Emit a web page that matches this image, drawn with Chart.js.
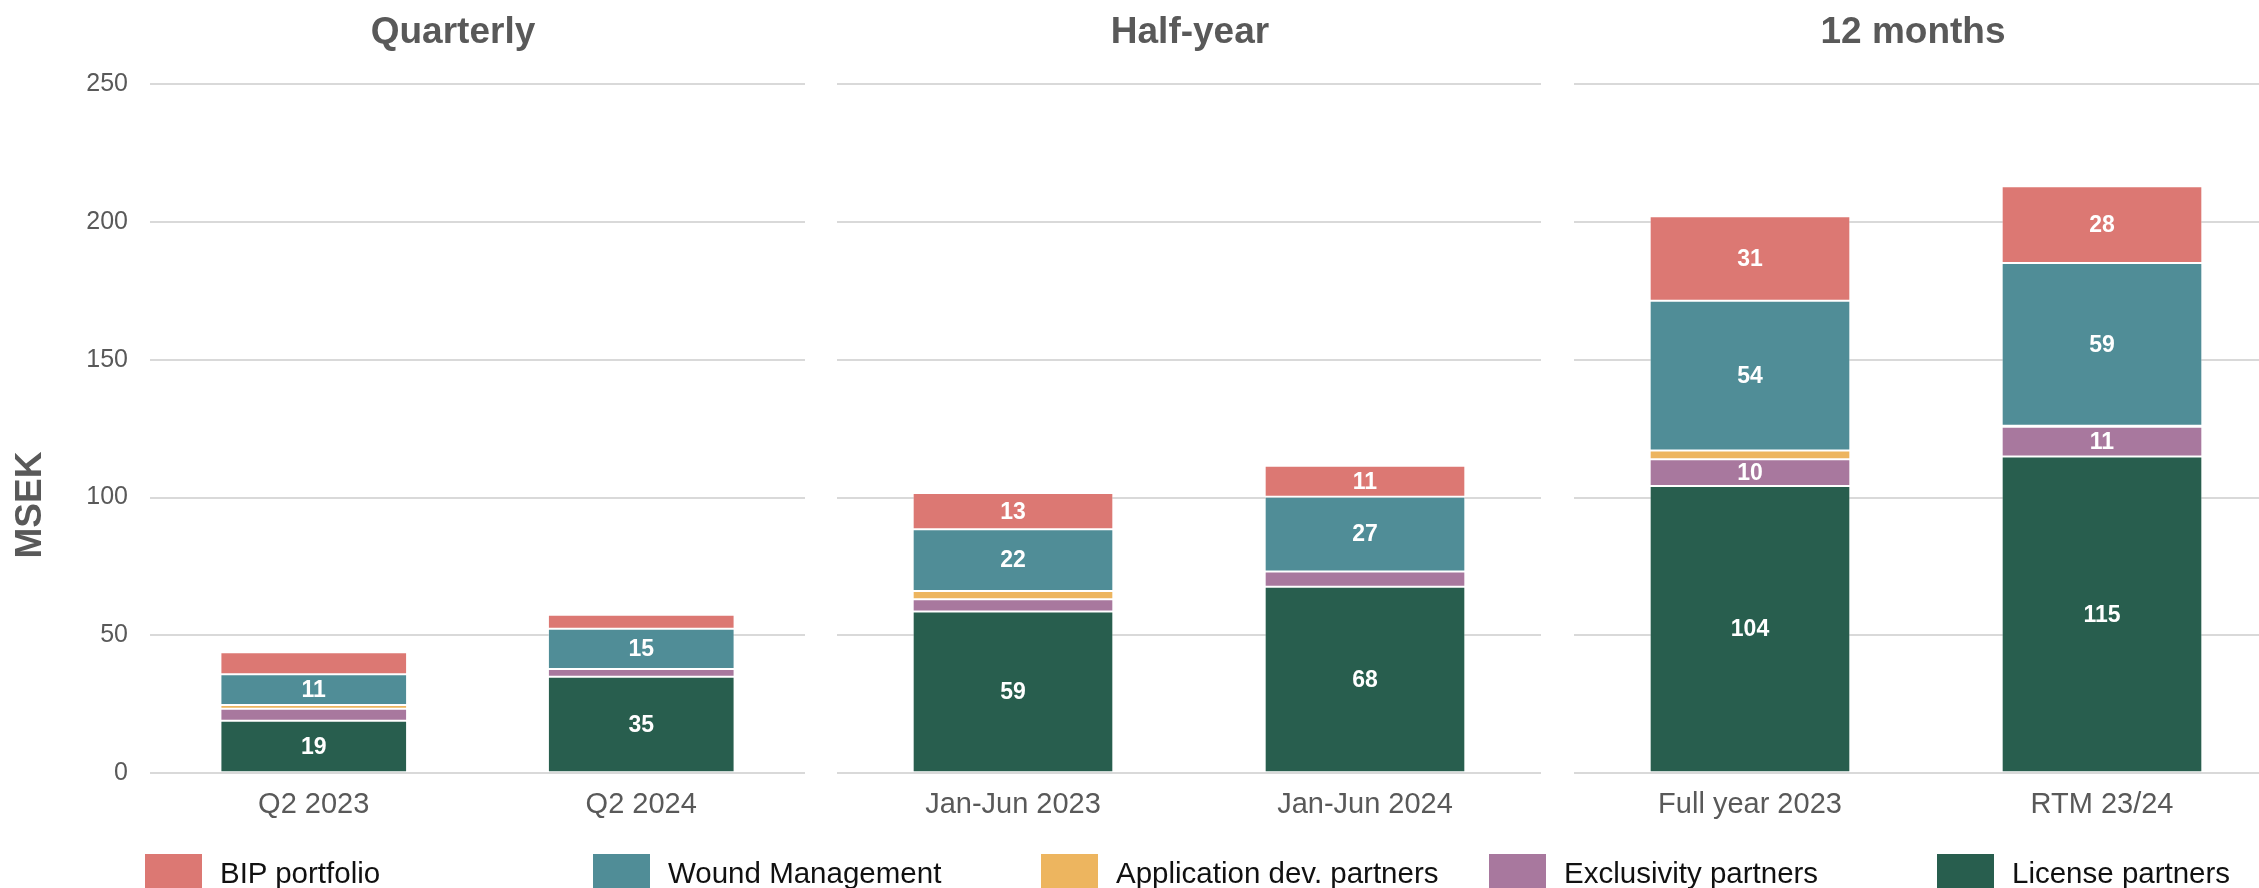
<!DOCTYPE html>
<html><head><meta charset="utf-8">
<script src="https://cdn.jsdelivr.net/npm/chart.js@4.4.1/dist/chart.umd.min.js"></script>
<style>
html,body{margin:0;padding:0;width:2259px;height:888px;overflow:hidden;background:#fff;font-family:'Liberation Sans',Arial,sans-serif;position:relative;}
canvas{position:absolute;top:0;}
.title{position:absolute;width:400px;text-align:center;font-weight:bold;font-size:37px;line-height:37px;color:#595959;top:12px;white-space:nowrap;}
.ytitle{position:absolute;width:200px;height:40px;line-height:40px;text-align:center;font-weight:bold;font-size:37px;color:#595959;left:-71px;top:485px;transform:rotate(-90deg);}
.lbox{position:absolute;top:854px;width:57px;height:57px;}
.ltext{position:absolute;top:856px;font-size:29.5px;line-height:34px;color:#111;white-space:nowrap;}
</style></head><body>
<canvas id="c1" width="805" height="888" style="left:0px"></canvas>
<canvas id="c2" width="704" height="888" style="left:837px"></canvas>
<canvas id="c3" width="704" height="888" style="left:1574px"></canvas>
<div class="ytitle">MSEK</div>
<div id="titles"></div>
<div id="legend"></div>
<script>
// ---- data ----
const categories = ['Q2 2023', 'Q2 2024', 'Jan-Jun 2023', 'Jan-Jun 2024', 'Full year 2023', 'RTM 23/24'];
const panelTitles = ['Quarterly', 'Half-year', '12 months'];
const seriesNames = ['BIP portfolio', 'Wound Management', 'Application dev. partners', 'Exclusivity partners', 'License partners'];
const bipPortfolio = [8.0, 5.1, 13.1, 11.2, 30.6, 27.8];
const woundManagement = [11.2, 14.6, 22.4, 27.1, 54.3, 59.1];
const applicationDev = [1.3, 0, 3.0, 0, 3.2, 0.3];
const exclusivityPartners = [4.4, 2.8, 4.4, 5.6, 9.7, 10.8];
const licensePartners = [19, 35, 58.7, 67.6, 104.2, 114.9];
const yTicks = [0, 50, 100, 150, 200, 250];

const colors = {
  'BIP portfolio': '#DC7873',
  'Wound Management': '#508D97',
  'Application dev. partners': '#EDB55F',
  'Exclusivity partners': '#A8789E',
  'License partners': '#285E4E'
};
const seriesData = {
  'BIP portfolio': bipPortfolio,
  'Wound Management': woundManagement,
  'Application dev. partners': applicationDev,
  'Exclusivity partners': exclusivityPartners,
  'License partners': licensePartners
};

const FONT = "'Liberation Sans', Arial, sans-serif";
Chart.defaults.font.family = FONT;

const segLabels = {
  id: 'segLabels',
  afterDatasetsDraw(chart) {
    const ctx = chart.ctx;
    ctx.save();
    ctx.font = 'bold 23px ' + FONT;
    ctx.fillStyle = '#ffffff';
    ctx.textAlign = 'center';
    ctx.textBaseline = 'middle';
    chart.data.datasets.forEach((ds, i) => {
      const meta = chart.getDatasetMeta(i);
      meta.data.forEach((el, j) => {
        const v = ds.data[j];
        if (v >= 9.5) ctx.fillText(String(Math.round(v)), el.x, (el.y + el.base) / 2 + 1);
      });
    });
    ctx.restore();
  }
};

function makeChart(id, from, showY) {
  const stackOrder = seriesNames.slice().reverse(); // bottom first
  const datasets = stackOrder.map(name => ({
    label: name,
    data: seriesData[name].slice(from, from + 2),
    backgroundColor: colors[name],
    borderColor: 'rgba(255,255,255,0.35)',
    borderWidth: 1,
    borderSkipped: false,
    categoryPercentage: 1,
    barPercentage: 0.57
  }));
  return new Chart(document.getElementById(id), {
    type: 'bar',
    data: { labels: categories.slice(from, from + 2), datasets },
    plugins: [segLabels],
    options: {
      responsive: false,
      animation: false,
      devicePixelRatio: 1,
      layout: { padding: { top: 84, bottom: 52, left: 0, right: 0 } },
      plugins: { legend: { display: false }, tooltip: { enabled: false } },
      scales: {
        x: {
          stacked: true,
          grid: { display: false, drawTicks: false },
          border: { display: false },
          ticks: { color: '#595959', font: { size: 29 }, padding: 14 }
        },
        y: {
          stacked: true,
          min: 0, max: 250,
          afterBuildTicks: (scale) => { scale.ticks = yTicks.map(v => ({ value: v })); },
          afterFit: (scale) => { scale.width = showY ? 150 : 0; },
          grid: { color: '#d9d9d9', lineWidth: 2, drawTicks: false },
          border: { display: false },
          ticks: { display: showY, color: '#595959', font: { size: 25 }, padding: 22 }
        }
      }
    }
  });
}

makeChart('c1', 0, true);
makeChart('c2', 2, false);
makeChart('c3', 4, false);

// panel titles
const titleCenters = [453, 1190, 1913];
const tdiv = document.getElementById('titles');
panelTitles.forEach((t, i) => {
  const d = document.createElement('div');
  d.className = 'title';
  d.style.left = (titleCenters[i] - 200) + 'px';
  d.textContent = t;
  tdiv.appendChild(d);
});

// legend
const ldiv = document.getElementById('legend');
seriesNames.forEach((name, i) => {
  const x = 145 + i * 448;
  const b = document.createElement('div');
  b.className = 'lbox';
  b.style.left = x + 'px';
  b.style.background = colors[name];
  ldiv.appendChild(b);
  const s = document.createElement('div');
  s.className = 'ltext';
  s.style.left = (x + 75) + 'px';
  s.textContent = name;
  ldiv.appendChild(s);
});
</script>
</body></html>
